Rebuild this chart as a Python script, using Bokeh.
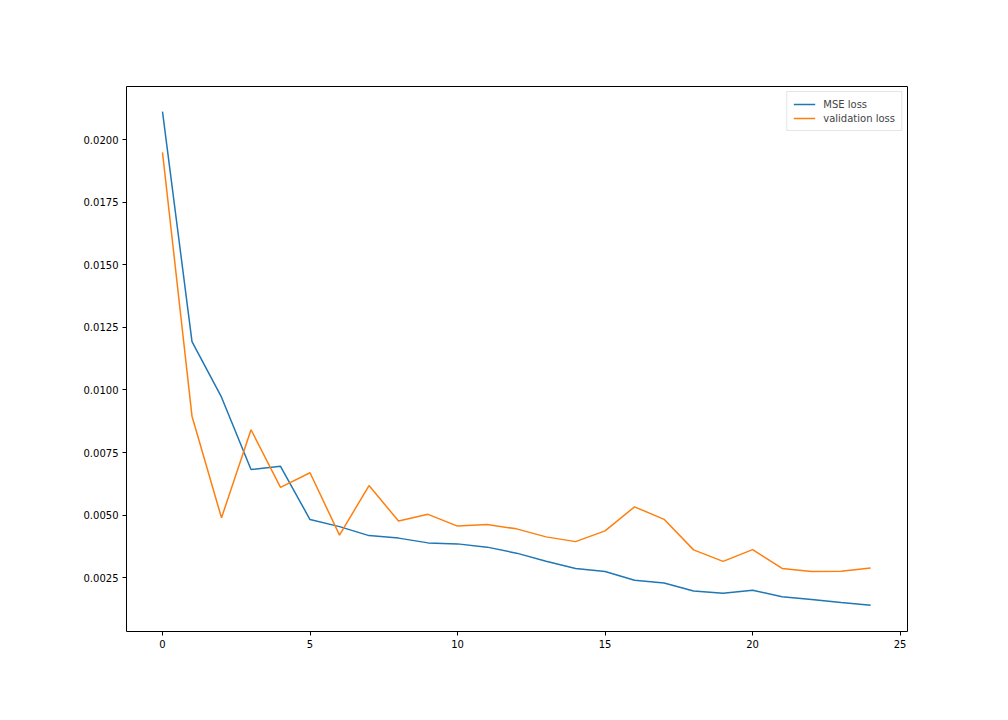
from bokeh.plotting import figure
from bokeh.models import FixedTicker, PrintfTickFormatter, Range1d, Legend, LegendItem
from bokeh.embed import file_html
from bokeh.resources import INLINE

epochs = list(range(25))
mse_loss = [0.02112, 0.01193, 0.00971, 0.00682, 0.00695, 0.00482, 0.00454, 0.00418,
            0.00408, 0.00389, 0.00385, 0.00372, 0.00348, 0.00316, 0.00287, 0.00275,
            0.00240, 0.00229, 0.00197, 0.00188, 0.00200, 0.00174, 0.00163, 0.00151,
            0.00140]
val_loss = [0.01949, 0.00895, 0.00489, 0.00841, 0.00611, 0.00669, 0.00420, 0.00618,
            0.00476, 0.00503, 0.00456, 0.00462, 0.00445, 0.00413, 0.00394, 0.00437,
            0.00533, 0.00483, 0.00361, 0.00315, 0.00362, 0.00287, 0.00275, 0.00276,
            0.00289]
x_ticks = [0, 5, 10, 15, 20, 25]
y_ticks = [0.0025, 0.0050, 0.0075, 0.0100, 0.0125, 0.0150, 0.0175, 0.0200]

FONT = "DejaVu Sans"

p = figure(width=1000, height=704, output_backend="svg", toolbar_location=None,
           frame_width=781, frame_height=545,
           min_border_left=126, min_border_right=93, min_border_top=86, min_border_bottom=73,
           x_range=Range1d(-1.22, 25.25), y_range=Range1d(0.00035, 0.02212))

p.background_fill_color = "white"
p.border_fill_color = "white"
p.outline_line_color = "black"
p.outline_line_width = 1
p.grid.visible = False

for ax in (p.xaxis, p.yaxis):
    ax.axis_line_color = None
    ax.major_tick_line_color = "black"
    ax.major_tick_out = 4
    ax.major_tick_in = 0
    ax.minor_tick_line_color = None
    ax.major_label_text_font = FONT
    ax.major_label_text_font_size = "10px"
    ax.major_label_text_color = "black"
    ax.major_label_standoff = 4

p.xaxis.ticker = FixedTicker(ticks=x_ticks)
p.yaxis.ticker = FixedTicker(ticks=y_ticks)
p.yaxis.formatter = PrintfTickFormatter(format="%.4f")

r1 = p.line(epochs, mse_loss, line_color="#1f77b4", line_width=1.5)
r2 = p.line(epochs, val_loss, line_color="#ff7f0e", line_width=1.5)

legend = Legend(items=[LegendItem(label="MSE loss", renderers=[r1]),
                       LegendItem(label="validation loss", renderers=[r2])],
                location="top_right")
legend.label_text_font = FONT
legend.label_text_font_size = "10px"
legend.border_line_color = "#cccccc"
legend.border_line_width = 1
legend.background_fill_alpha = 0.8
legend.margin = 5
legend.padding = 6
legend.spacing = 2
legend.glyph_width = 22
legend.glyph_height = 12
legend.label_height = 12
legend.label_standoff = 8
p.add_layout(legend)

open("out.html", "w").write(file_html(p, INLINE))
